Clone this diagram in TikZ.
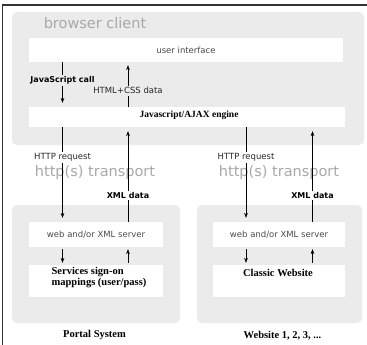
\documentclass[tikz,border=0pt]{standalone}
\usepackage{fontspec}
\setmainfont{Liberation Serif}
\setsansfont{DejaVu Sans}
\usetikzlibrary{arrows.meta}

\definecolor{panelgrey}{HTML}{EBEBEB}
\definecolor{biggrey}{HTML}{A8A8A8}
\definecolor{boxtext}{HTML}{4A4A4A}

\tikzset{
    panel/.style={fill=panelgrey, rounded corners=5pt, inner sep=0pt},
    whitebox/.style={fill=white, inner sep=0pt},
    boxlabel/.style={text=boxtext, font=\sffamily\fontsize{8.5}{10}\selectfont},
    smalllabel/.style={text=black!85, inner sep=1.5pt, font=\sffamily\fontsize{8.5}{10}\selectfont},
    boldlabel/.style={text=black, inner sep=1.5pt, font=\sffamily\bfseries\fontsize{8}{10}\selectfont},
    seriflabel/.style={text=black, font=\bfseries\fontsize{10.5}{11}\selectfont},
    biglabel/.style={text=biggrey, font=\sffamily\fontsize{14.5}{17}\selectfont},
}

\begin{document}
\begin{tikzpicture}[>=Stealth, x=1pt, y=-1pt]
    \useasboundingbox (0,0) rectangle (367,345);
    % frame
    \draw[line width=1.5pt, black!80] (2.5,345) |- (367,5);

    % grey panels
    \node[panel, minimum width=352, minimum height=133] (client) at (188,78.5) {};
    \node[panel, minimum width=168, minimum height=118] (portal) at (96,264) {};
    \node[panel, minimum width=165, minimum height=118] (site) at (279.5,264) {};

    \node[biglabel] (clienttitle) at (95,23) {browser client};
    \node[biglabel] (transportL) at (95,172) {http(s) transport};
    \node[biglabel] (transportR) at (279,172) {http(s) transport};

    % white boxes
    \node[whitebox, minimum width=314, minimum height=24] (ui) at (186,50) {};
    \node[boxlabel] at (ui) {user interface};
    \node[whitebox, minimum width=316, minimum height=20] (engine) at (187,117) {};
    \node[seriflabel, font=\bfseries\fontsize{9.5}{11}\selectfont] (enginetext) at (189,115) {Javascript/AJAX engine};

    \node[whitebox, minimum width=134, minimum height=25] (serverL) at (96,234.5) {};
    \node[boxlabel] at (serverL) {web and/or XML server};
    \node[whitebox, minimum width=132, minimum height=25] (serverR) at (279,234.5) {};
    \node[boxlabel] at (serverR) {web and/or XML server};

    \node[whitebox, minimum width=134, minimum height=32] (services) at (96,281) {};
    \node[seriflabel, align=left] (servicestext) at (99,278) {Services sign-on\\ mappings (user/pass)};
    \node[whitebox, minimum width=132, minimum height=32] (classic) at (279,281) {};
    \node[seriflabel] (classictext) at (278,273) {Classic Website};

    \node[seriflabel] (portalname) at (94.5,335) {Portal System};
    \node[seriflabel] (sitename) at (282.5,336) {Website 1, 2, 3, ...};

    % columns for the arrows
    \coordinate (cL) at (62.5,0);
    \coordinate (uL) at (128,0);
    \coordinate (cR) at (246,0);
    \coordinate (uR) at (312.5,0);

    % inside the browser
    \draw[->] (ui.south -| cL) -- (engine.north -| cL) [shorten >=4pt]
        node[pos=.41, boldlabel, fill=panelgrey] {JavaScript call};
    \draw[->] (engine.north -| uL) -- (ui.south -| uL) [shorten >=3pt]
        node[pos=.36, smalllabel, fill=panelgrey] {HTML+CSS data};

    % transport
    \draw[->] (engine.south -| cL) -- (serverL.north -| cL) [shorten >=4pt]
        node[pos=.32, smalllabel, fill=white] {HTTP request};
    \draw[->] (serverL.north -| uL) -- (engine.south -| uL) [shorten >=4pt]
        node[pos=.28, boldlabel, fill=white] {XML data};
    \draw[->] (engine.south -| cR) -- (serverR.north -| cR) [shorten >=4pt]
        node[pos=.32, smalllabel, fill=white] {HTTP request};
    \draw[->] (serverR.north -| uR) -- (engine.south -| uR) [shorten >=4pt]
        node[pos=.28, boldlabel, fill=white] {XML data};

    % servers
    \draw[->] (serverL.south -| cL) -- (services.north -| cL) [shorten <=2pt, shorten >=2pt];
    \draw[->] (services.north -| uL) -- (serverL.south -| uL) [shorten <=2pt, shorten >=2pt];
    \draw[->] (serverR.south -| cR) -- (classic.north -| cR) [shorten <=2pt, shorten >=2pt];
    \draw[->] (classic.north -| uR) -- (serverR.south -| uR) [shorten <=2pt, shorten >=2pt];
\end{tikzpicture}
\end{document}
